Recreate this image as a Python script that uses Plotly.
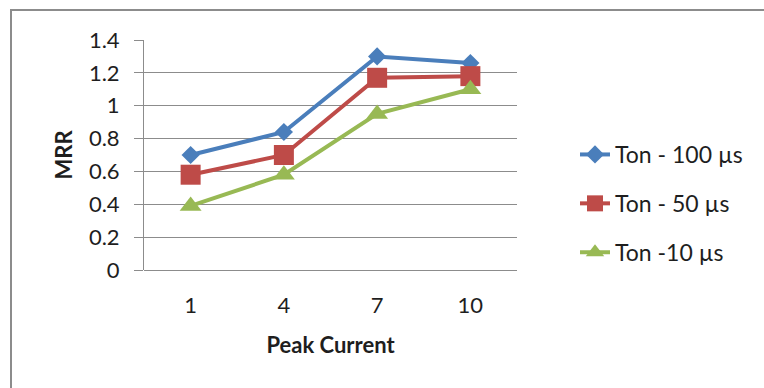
import plotly.graph_objects as go

# Peak current settings (categories) and MRR for each pulse-on time
peak_current = ["1", "4", "7", "10"]
mrr_ton_100 = [0.70, 0.84, 1.30, 1.26]
mrr_ton_50 = [0.58, 0.70, 1.17, 1.18]
mrr_ton_10 = [0.39, 0.58, 0.95, 1.10]

series = [
    ("Ton - 100 µs", mrr_ton_100, "#4a7ebb", "diamond", 14),
    ("Ton - 50 µs", mrr_ton_50, "#be4b48", "square", 20),
    ("Ton -10 µs", mrr_ton_10, "#98b954", "triangle-up", 19),
]

W, H = 764, 388
L, R, T, B = 144, 247, 40, 118
pw, ph = W - L - R, H - T - B

fig = go.Figure()
for i, (name, vals, color, sym, size) in enumerate(series):
    fig.add_trace(go.Scatter(
        x=peak_current, y=vals, name=name, mode="lines+markers",
        legendgroup=f"g{i}",
        line=dict(color=color, width=4),
        marker=dict(symbol=sym, size=size, color=color),
    ))

font = "Lato, 'Open Sans', sans-serif"
grey = "#8c8c8c"
fs = 22

# Outer chart border (top and left visible, right/bottom run off the page)
fig.add_shape(
    type="rect", xref="paper", yref="paper",
    x0=(11 - L) / pw, x1=(W + 20 - L) / pw,
    y0=(H - B - (H + 20)) / ph, y1=(H - B - 10) / ph,
    line=dict(color=grey, width=2), fillcolor="rgba(0,0,0,0)", layer="below",
)

fig.update_layout(
    width=W, height=H,
    margin=dict(l=L, r=R, t=T, b=B),
    paper_bgcolor="white", plot_bgcolor="white",
    font=dict(family=font, size=fs, color="#1e1e1e"),
    showlegend=True,
    legend=dict(
        x=(575 - L) / pw, y=(H - B - 133) / ph, xanchor="left", yanchor="top",
        font=dict(size=23, family=font), tracegroupgap=16,
        bgcolor="rgba(0,0,0,0)",
    ),
    xaxis=dict(
        type="category", range=[-0.5, 3.5],
        showgrid=False, showline=False, ticks="",
        ticklabelstandoff=20,
        title=dict(text="<b>Peak Current</b>", font=dict(size=fs), standoff=20),
        tickfont=dict(size=fs),
    ),
    yaxis=dict(
        range=[0, 1.4], dtick=0.2, tickformat="~g",
        showgrid=True, gridcolor=grey, gridwidth=1,
        showline=True, linecolor=grey, linewidth=1,
        ticks="outside", ticklen=9, tickcolor=grey,
        ticklabelstandoff=10,
        zeroline=True, zerolinecolor=grey, zerolinewidth=1,
        title=dict(text="<b>MRR</b>", font=dict(size=fs), standoff=10),
        tickfont=dict(size=fs),
    ),
)

fig.write_html("out.html")
